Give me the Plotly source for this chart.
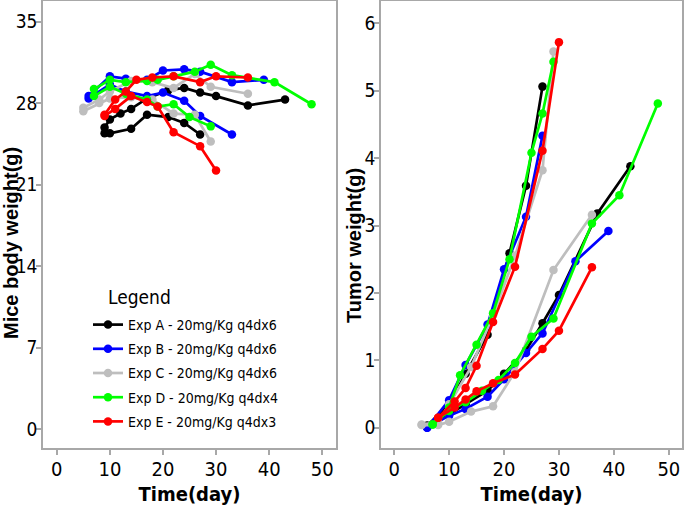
import plotly.graph_objects as go

# ---------------- data ----------------
exp_names = ["Exp A - 20mg/Kg q4dx6", "Exp B - 20mg/Kg q4dx6", "Exp C - 20mg/Kg q4dx6",
             "Exp D - 20mg/Kg q4dx4", "Exp E - 20mg/Kg q4dx3"]
exp_colors = ["#000000", "#0000FF", "#BEBEBE", "#00FF00", "#FF0000"]

# body weight (g) - two groups per experiment
A_w1_days = [9, 10, 14, 17, 21, 24, 27]
A_w1 = [25.4, 25.4, 25.8, 27.0, 26.8, 26.3, 25.3]
A_w2_days = [9, 10, 12, 14, 17, 21, 24, 27, 30, 36, 43]
A_w2 = [25.9, 26.6, 27.1, 27.5, 28.4, 29.1, 29.3, 28.9, 28.6, 27.8, 28.3]

B_w1_days = [6, 10, 13, 17, 20, 24, 27, 33, 39]
B_w1 = [28.6, 30.3, 30.1, 30.0, 30.8, 30.9, 30.7, 29.8, 30.0]
B_w2_days = [6, 10, 13, 17, 20, 24, 27, 33]
B_w2 = [28.4, 29.6, 29.0, 28.6, 28.9, 28.2, 26.9, 25.3]

C_w1_days = [5, 8, 10, 14, 18, 22, 26, 29, 36]
C_w1 = [27.6, 28.3, 29.0, 29.9, 29.8, 29.3, 30.5, 29.4, 28.8]
C_w2_days = [5, 8, 10, 14, 18, 22, 26, 29]
C_w2 = [27.3, 28.0, 28.4, 28.5, 28.3, 27.1, 27.0, 24.7]

D_w1_days = [7, 10, 13, 17, 19, 22, 26, 29, 33, 41, 48]
D_w1 = [29.2, 30.0, 29.8, 29.9, 30.0, 30.3, 30.7, 31.3, 30.4, 29.8, 27.9]
D_w2_days = [7, 10, 13, 17, 19, 22, 25, 29]
D_w2 = [28.6, 29.4, 28.8, 28.3, 27.7, 27.9, 26.8, 26.0]

E_w1_days = [9, 11, 13, 15, 18, 22, 27, 30, 36]
E_w1 = [27.0, 28.3, 29.0, 30.0, 30.2, 30.3, 29.8, 30.3, 30.2]
E_w2_days = [9, 11, 14, 17, 19, 22, 27, 30]
E_w2 = [26.9, 27.5, 28.6, 28.1, 27.7, 25.5, 24.3, 22.2]

# tumor weight (g) - fast (control) and slow (treated) groups
A_t1_days = [6, 10, 13, 17, 21, 24, 27]
A_t1 = [0.03, 0.35, 0.80, 1.38, 2.59, 3.59, 5.06]
A_t2_days = [6, 10, 13, 17, 20, 24, 27, 30, 37, 43]
A_t2 = [0.03, 0.20, 0.35, 0.55, 0.80, 1.15, 1.55, 1.97, 3.18, 3.88]

B_t1_days = [6, 10, 13, 17, 20, 24, 27]
B_t1 = [0.00, 0.41, 0.93, 1.53, 2.35, 3.13, 4.33]
B_t2_days = [6, 10, 13, 17, 20, 24, 27, 33, 39]
B_t2 = [0.00, 0.18, 0.28, 0.46, 0.72, 1.11, 1.40, 2.47, 2.92]

C_t1_days = [5, 8, 10, 14, 18, 22, 27, 29]
C_t1 = [0.05, 0.08, 0.35, 0.90, 1.67, 2.55, 3.82, 5.58]
C_t2_days = [5, 8, 10, 14, 18, 22, 29, 36]
C_t2 = [0.04, 0.04, 0.09, 0.24, 0.32, 0.83, 2.34, 3.16]

D_t1_days = [7, 10, 12, 15, 18, 21, 25, 27, 29]
D_t1 = [0.05, 0.30, 0.78, 1.23, 1.70, 2.50, 4.08, 4.66, 5.43]
D_t2_days = [7, 10, 13, 16, 19, 22, 25, 29, 36, 41, 48]
D_t2 = [0.05, 0.25, 0.38, 0.55, 0.71, 0.96, 1.35, 1.62, 3.03, 3.45, 4.81]

E_t1_days = [8, 11, 13, 15, 18, 22, 27, 30]
E_t1 = [0.15, 0.39, 0.59, 0.92, 1.57, 2.39, 4.11, 5.72]
E_t2_days = [8, 11, 13, 15, 18, 22, 27, 30, 36]
E_t2 = [0.15, 0.30, 0.42, 0.54, 0.66, 0.79, 1.17, 1.44, 2.38]

x_ticks = [0, 10, 20, 30, 40, 50]
weight_ticks = [0, 7, 14, 21, 28, 35]
tumor_ticks = [0, 1, 2, 3, 4, 5, 6]

weight_series = [
    [(A_w1_days, A_w1), (A_w2_days, A_w2)],
    [(B_w1_days, B_w1), (B_w2_days, B_w2)],
    [(C_w1_days, C_w1), (C_w2_days, C_w2)],
    [(D_w1_days, D_w1), (D_w2_days, D_w2)],
    [(E_w1_days, E_w1), (E_w2_days, E_w2)],
]
tumor_series = [
    [(A_t1_days, A_t1), (A_t2_days, A_t2)],
    [(B_t1_days, B_t1), (B_t2_days, B_t2)],
    [(C_t1_days, C_t1), (C_t2_days, C_t2)],
    [(D_t1_days, D_t1), (D_t2_days, D_t2)],
    [(E_t1_days, E_t1), (E_t2_days, E_t2)],
]

# ---------------- figure ----------------
fig = go.Figure()
for i, (name, color) in enumerate(zip(exp_names, exp_colors)):
    first = True
    for (d, v) in weight_series[i]:
        fig.add_trace(go.Scatter(x=d, y=v, mode="lines+markers", name=name,
                                 legendgroup=name, showlegend=first,
                                 line=dict(color=color, width=2.7),
                                 marker=dict(color=color, size=8.5),
                                 xaxis="x", yaxis="y"))
        first = False
    for (d, v) in tumor_series[i]:
        fig.add_trace(go.Scatter(x=d, y=v, mode="lines+markers", name=name,
                                 legendgroup=name, showlegend=False,
                                 line=dict(color=color, width=2.7),
                                 marker=dict(color=color, size=8.5),
                                 xaxis="x2", yaxis="y2"))

W, H = 685, 509
ML, MR, MT, MB = 43, 3, 1, 61
PW, PH = W - ML - MR, H - MT - MB

narrow = "DejaVu Sans Condensed, Liberation Sans Narrow, Arial Narrow, Liberation Sans, sans-serif"
xtick_font = dict(family=narrow, size=20, color="#000000")
ytick_font = dict(family=narrow, size=19, color="#000000")
title_font = dict(family=narrow, size=20, color="#000000")
ytitle_font = dict(family="Liberation Sans, Arial, sans-serif", size=20, color="#000000")

axis_common = dict(showline=True, mirror=True, linecolor="#A8A8A8", linewidth=1.5,
                   ticks="outside", tickcolor="#A8A8A8", ticklen=5, tickwidth=1.5,
                   showgrid=False, zeroline=False, automargin=False)

fig.update_layout(
    width=W, height=H,
    margin=dict(l=ML, r=MR, t=MT, b=MB),
    paper_bgcolor="white", plot_bgcolor="white",
    xaxis=dict(domain=[0, (336 - ML) / PW], range=[-2.6, 52.6], tickvals=x_ticks,
               ticklabelstandoff=-3, tickfont=xtick_font,
               title=dict(text="<b>Time(day)</b>", font=title_font, standoff=7), anchor="y", **axis_common),
    yaxis=dict(domain=[0, 1], range=[-1.63, 36.77], tickvals=weight_ticks,
               ticklabelstandoff=-5, tickfont=ytick_font, anchor="x", **axis_common),
    xaxis2=dict(domain=[(381 - ML) / PW, 1], range=[-2.4, 52.4], tickvals=x_ticks,
                ticklabelstandoff=-3, tickfont=xtick_font,
                title=dict(text="<b>Time(day)</b>", font=title_font, standoff=7), anchor="y2", **axis_common),
    yaxis2=dict(domain=[0, 1], range=[-0.3, 6.33], tickvals=tumor_ticks,
                ticklabelstandoff=-5, tickfont=ytick_font, anchor="x2", **axis_common),
    legend=dict(x=(88 - ML) / PW, y=1 - (309 - MT) / PH, xanchor="left", yanchor="top",
                bgcolor="rgba(0,0,0,0)", tracegroupgap=3,
                font=dict(family=narrow, size=14, color="#000000"),
                itemwidth=30),
    showlegend=True,
    annotations=[
        dict(text="Legend", xref="paper", yref="paper",
             x=(106 - ML) / PW, y=1 - (297 - MT) / PH, xanchor="left", yanchor="middle",
             showarrow=False, font=dict(family=narrow, size=19, color="#000000")),
        dict(text="<b>Mice body weight(g)</b>", textangle=-90, xref="paper", yref="paper",
             x=(11 - ML) / PW, y=1 - (243 - MT) / PH, xanchor="center", yanchor="middle",
             showarrow=False, font=ytitle_font),
        dict(text="<b>Tumor weight(g)</b>", textangle=-90, xref="paper", yref="paper",
             x=(354 - ML) / PW, y=1 - (246 - MT) / PH, xanchor="center", yanchor="middle",
             showarrow=False, font=ytitle_font),
    ],
)

fig.write_html("out.html", config={"displayModeBar": False},
               post_script="document.body.style.margin='0';document.body.style.overflow='hidden';")
